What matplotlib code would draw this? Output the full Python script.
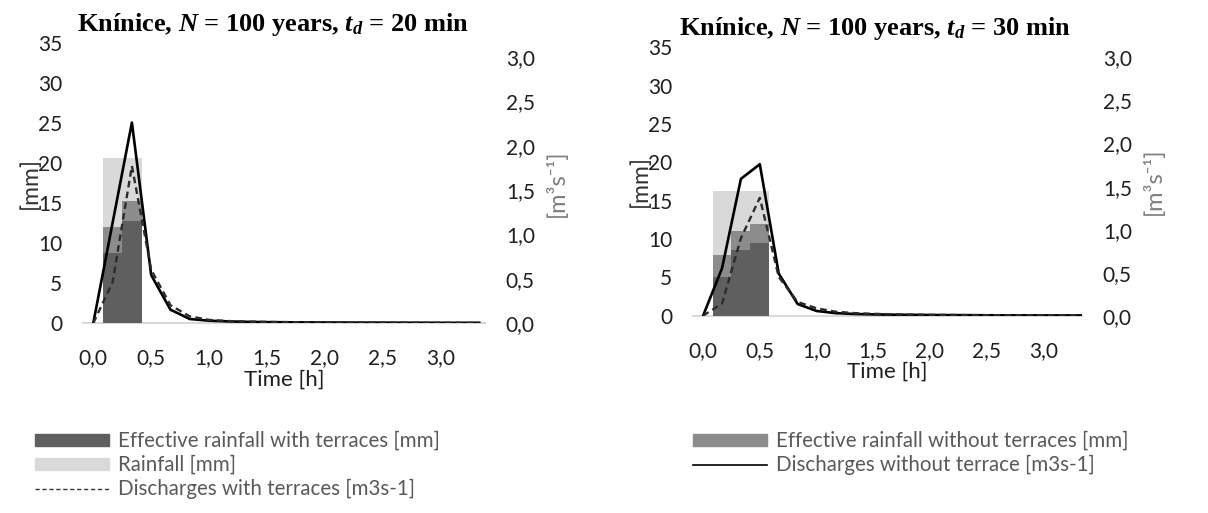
import matplotlib
matplotlib.use("Agg")
import matplotlib.pyplot as plt
import numpy as np
from matplotlib.patches import Patch
from matplotlib.lines import Line2D
from matplotlib.ticker import FuncFormatter, MultipleLocator

plt.rcParams['mathtext.fontset'] = 'custom'
plt.rcParams['mathtext.rm'] = 'Liberation Serif:bold'
plt.rcParams['mathtext.it'] = 'Liberation Serif:italic:bold'
plt.rcParams['mathtext.bf'] = 'Liberation Serif:bold'
plt.rcParams['mathtext.bfit'] = 'Liberation Serif:italic:bold'

SANS = ['Lato', 'DejaVu Sans']

# temps en heures, pas de 10 min
time_h = [k / 6 for k in range(21)]

# --- t_d = 20 min ---
bar_t_20 = [1 / 6, 2 / 6]
rain_20 = [20.6, 20.6]
eff_without_20 = [12.0, 15.3]
eff_with_20 = [8.8, 12.7]
q_without_20 = [0, 1.13, 2.26, 0.54, 0.15, 0.045, 0.026, 0.018, 0.013, 0.01, 0.008,
                0.007, 0.006, 0.005, 0.004, 0.004, 0.003, 0.003, 0.002, 0.002, 0.002]
q_with_20 = [0, 0.46, 1.77, 0.6, 0.2, 0.075, 0.035, 0.022, 0.016, 0.012, 0.01,
             0.008, 0.007, 0.006, 0.005, 0.004, 0.004, 0.003, 0.003, 0.002, 0.002]

# --- t_d = 30 min ---
bar_t_30 = [1 / 6, 2 / 6, 3 / 6]
rain_30 = [16.3, 16.3, 16.3]
eff_without_30 = [7.9, 11.0, 12.0]
eff_with_30 = [5.1, 8.6, 9.5]
q_without_30 = [0, 0.55, 1.59, 1.76, 0.49, 0.136, 0.055, 0.03, 0.02, 0.015, 0.012,
                0.01, 0.008, 0.007, 0.006, 0.005, 0.004, 0.004, 0.003, 0.003, 0.003]
q_with_30 = [0, 0.14, 0.9, 1.37, 0.45, 0.16, 0.086, 0.047, 0.03, 0.022, 0.016,
             0.013, 0.01, 0.009, 0.007, 0.006, 0.005, 0.005, 0.004, 0.004, 0.003]

c_dark = '#5f5f5f'
c_mid = '#8c8c8c'
c_light = '#d9d9d9'
c_tick = '#1f1f1f'

fig = plt.figure(figsize=(12.08, 5.13), dpi=100)

comma = FuncFormatter(lambda v, p: ('%.1f' % v).replace('.', ','))
intf = FuncFormatter(lambda v, p: '%d' % round(v))


def panel(rect, xmax, q2max, bt, rain, effno, effw, qno, qw, xl_pad):
    ax = fig.add_axes(rect)
    ax.bar(bt, rain, width=1 / 6, color=c_light, zorder=2)
    ax.bar(bt, effno, width=1 / 6, color=c_mid, zorder=3)
    ax.bar(bt, effw, width=1 / 6, color=c_dark, zorder=4)
    ax.set_xlim(-0.089, xmax)
    ax.set_ylim(0, 35)
    ax.yaxis.set_major_locator(MultipleLocator(5))
    ax.yaxis.set_major_formatter(intf)
    ax.set_xticks(np.arange(0, 3.01, 0.5))
    ax.xaxis.set_major_formatter(comma)
    for s in ['top', 'left', 'right']:
        ax.spines[s].set_visible(False)
    ax.spines['bottom'].set_color(c_light)
    ax.spines['bottom'].set_linewidth(1.5)
    ax.tick_params(length=0, labelsize=15, labelcolor=c_tick, pad=15)
    ax.tick_params(axis='x', pad=18)
    for lab in ax.get_xticklabels() + ax.get_yticklabels():
        lab.set_family(SANS)
    ax.set_ylabel('[mm]', fontsize=16.5, family=SANS, color='#333333', labelpad=-2)
    ax.set_xlabel('Time [h]', fontsize=16, family=SANS, color=c_tick, labelpad=xl_pad)

    ax2 = ax.twinx()
    ax2.plot(time_h, qno, color='black', lw=1.9, zorder=5)
    ax2.plot(time_h, qw, color='#2b2b2b', lw=1.7, dashes=(2.8, 1.8), zorder=5)
    ax2.set_ylim(0, q2max)
    ax2.set_yticks(np.arange(0, 3.01, 0.5))
    ax2.yaxis.set_major_formatter(comma)
    for s in ['top', 'left', 'right', 'bottom']:
        ax2.spines[s].set_visible(False)
    ax2.tick_params(length=0, labelsize=15, labelcolor=c_tick, pad=15)
    for lab in ax2.get_yticklabels():
        lab.set_family(SANS)
    ax2.set_ylabel('[m³s⁻¹]', fontsize=17, family=SANS, color='#7f7f7f', labelpad=8)
    return ax, ax2


panel([83 / 1208, 190 / 513, 402 / 1208, 280 / 513], 3.383, 3.157,
      bar_t_20, rain_20, eff_without_20, eff_with_20, q_without_20, q_with_20, 1)
panel([693 / 1208, 197.3 / 513, 389 / 1208, 268.5 / 513], 3.34, 3.12,
      bar_t_30, rain_30, eff_without_30, eff_with_30, q_without_30, q_with_30, 1)

fig.text(77 / 1208, 1 - 31 / 513,
         r'Knínice, $\mathbfit{N}$ = 100 years, $\mathbfit{t}_{\mathit{d}}$ = 20 min',
         family='Liberation Serif', weight='bold', fontsize=19, va='baseline')
fig.text(679 / 1208, 1 - 35 / 513,
         r'Knínice, $\mathbfit{N}$ = 100 years, $\mathbfit{t}_{\mathit{d}}$ = 30 min',
         family='Liberation Serif', weight='bold', fontsize=19, va='baseline')

h_with = Patch(color=c_dark)
h_rain = Patch(color=c_light)
h_qw = Line2D([], [], color='#333333', lw=1.0, dashes=(3, 2))
h_without = Patch(color=c_mid)
h_qno = Line2D([], [], color='black', lw=1.2)

leg_kw = dict(frameon=False, loc='upper left', prop={'family': SANS, 'size': 14.8},
              handlelength=3.6, handleheight=0.5, handletextpad=0.45,
              labelspacing=0.2, borderaxespad=0, borderpad=0, labelcolor='#595959')
fig.legend([h_with, h_rain, h_qw],
           ['Effective rainfall with terraces [mm]', 'Rainfall [mm]',
            'Discharges with terraces [m3s-1]'],
           bbox_to_anchor=(35 / 1208, 1 - 431 / 513), **leg_kw)
fig.legend([h_without, h_qno],
           ['Effective rainfall without terraces [mm]', 'Discharges without terrace [m3s-1]'],
           bbox_to_anchor=(693 / 1208, 1 - 431 / 513), **leg_kw)

fig.savefig('out.png', dpi=100)
